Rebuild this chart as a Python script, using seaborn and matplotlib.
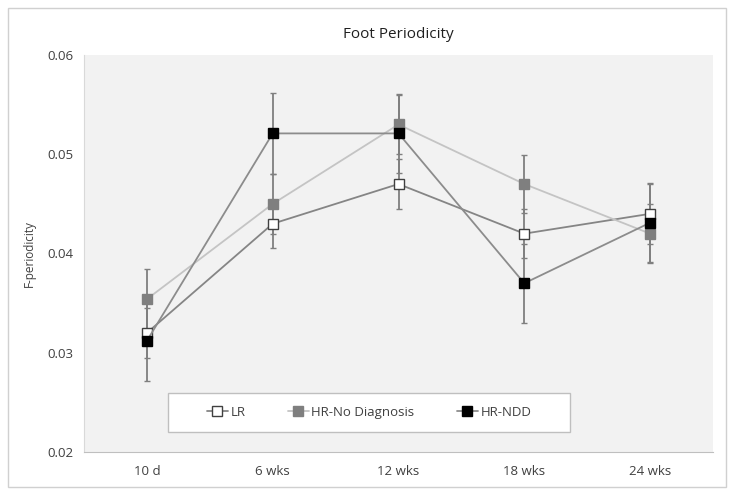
import matplotlib
matplotlib.use("Agg")
import matplotlib.pyplot as plt
import matplotlib.patches as mpatches
import numpy as np
import pandas as pd
import seaborn as sns

# data
timepoints = ["10 d", "6 wks", "12 wks", "18 wks", "24 wks"]
lr = [0.0320, 0.0430, 0.0470, 0.0420, 0.0440]
lr_err = [0.0025, 0.0024, 0.0025, 0.0025, 0.0030]
hr_nodx = [0.0354, 0.0450, 0.0530, 0.0470, 0.0420]
hr_nodx_err = [0.0030, 0.0030, 0.0030, 0.0029, 0.0030]
hr_ndd = [0.0312, 0.0521, 0.0521, 0.0370, 0.0431]
hr_ndd_err = [0.0040, 0.0041, 0.0040, 0.0040, 0.0040]

pos = np.arange(len(timepoints))
df = pd.DataFrame({
    "pos": np.tile(pos, 3),
    "value": lr + hr_nodx + hr_ndd,
    "err": lr_err + hr_nodx_err + hr_ndd_err,
    "group": ["LR"] * 5 + ["HR-No Diagnosis"] * 5 + ["HR-NDD"] * 5,
})

sns.set_style("white")
plt.rcParams["font.family"] = ["Open Sans", "DejaVu Sans"]

fig = plt.figure(figsize=(7.33, 4.94), dpi=100)
ax = fig.add_axes([84 / 733, 1 - 452 / 494, 629 / 733, 397 / 494])
ax.set_facecolor("#f2f2f2")

# outer chart border
fig.patches.append(mpatches.Rectangle((8 / 733, 1 - 487 / 494), 718 / 733, 479 / 494,
                                      transform=fig.transFigure, fill=False,
                                      edgecolor="#d0d0d0", lw=1))

styles = {
    "LR": dict(line="#858585", face="white", edge="#404040"),
    "HR-No Diagnosis": dict(line="#c4c4c4", face="#7f7f7f", edge="#7f7f7f"),
    "HR-NDD": dict(line="#8c8c8c", face="black", edge="black"),
}

for i, (name, st) in enumerate(styles.items()):
    sub = df[df["group"] == name]
    ax.errorbar(sub["pos"], sub["value"], yerr=sub["err"], fmt="none",
                ecolor="#7f7f7f", elinewidth=1.3, capsize=2, capthick=1, zorder=2 + i)
    sns.lineplot(data=sub, x="pos", y="value", ax=ax, color=st["line"], lw=1.3,
                 marker="s", markersize=7, markerfacecolor=st["face"],
                 markeredgecolor=st["edge"], markeredgewidth=1, label=name,
                 zorder=5 + i)

ax.set_xlim(-0.5, 4.5)
ax.set_ylim(0.02, 0.06)
ax.set_yticks([0.02, 0.03, 0.04, 0.05, 0.06])
ax.set_yticklabels(["0.02", "0.03", "0.04", "0.05", "0.06"])
ax.set_xticks(pos)
ax.set_xticklabels(timepoints)
ax.set_xticks([4.5], minor=True)
ax.tick_params(axis="both", which="both", direction="out", length=4, width=0.8,
               color="#bfbfbf", labelsize=9.5, labelcolor="#404040")
ax.tick_params(axis="x", pad=5)
ax.set_xlabel("")
ax.set_ylabel("F-periodicity", fontsize=8.5, color="#404040", labelpad=8)
ax.set_title("Foot Periodicity", fontsize=11, color="#202020", pad=12)

for side in ["top", "right"]:
    ax.spines[side].set_visible(False)
ax.spines["left"].set_color("#d9d9d9")
ax.spines["bottom"].set_color("#bfbfbf")

# legend box drawn separately so the entries can sit centred inside it
box = mpatches.Rectangle(((168 - 84) / 629, (452 - 432) / 397), 402 / 629, 39 / 397,
                         transform=ax.transAxes, facecolor="white",
                         edgecolor="#bfbfbf", lw=1, zorder=10)
ax.add_patch(box)
leg = ax.legend(loc="center", bbox_to_anchor=((369 - 84) / 629, (452 - 412.5) / 397),
                ncol=3, frameon=False, fontsize=9.5, handlelength=1.6,
                handletextpad=0.2, columnspacing=3.2, borderaxespad=0)
leg.set_zorder(11)
for t in leg.get_texts():
    t.set_color("#404040")

fig.savefig("out.png", dpi=100)
